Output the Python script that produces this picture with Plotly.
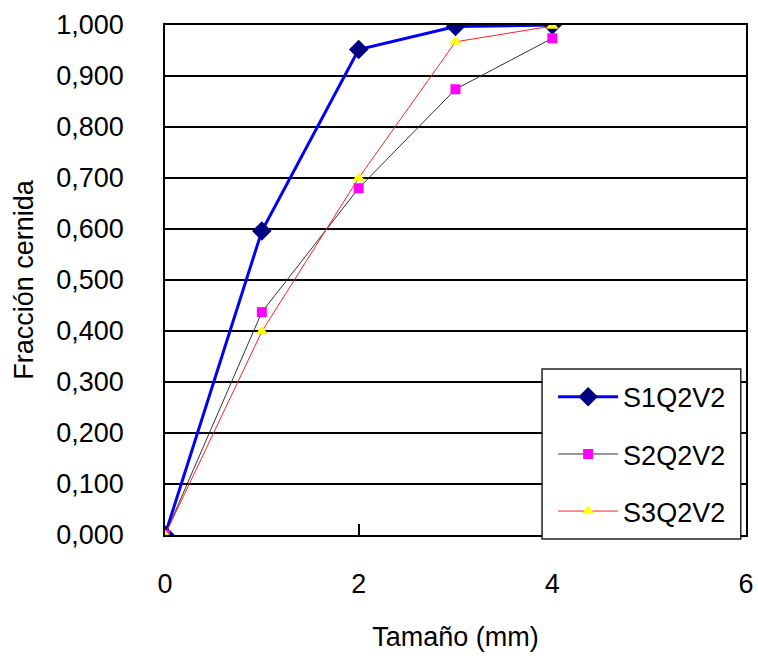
import plotly.graph_objects as go

# Sieve sizes (mm) and cumulative passing fraction for each sample
tamano = [0, 1, 2, 3, 4]
s1q2v2 = [0.000, 0.596, 0.952, 0.997, 1.000]
s2q2v2 = [0.000, 0.437, 0.680, 0.874, 0.974]
s3q2v2 = [0.000, 0.399, 0.700, 0.967, 0.998]

y_ticks = [0.0, 0.1, 0.2, 0.3, 0.4, 0.5, 0.6, 0.7, 0.8, 0.9, 1.0]
y_tick_text = ["0,000", "0,100", "0,200", "0,300", "0,400", "0,500",
               "0,600", "0,700", "0,800", "0,900", "1,000"]
x_ticks = [0, 2, 4, 6]

FONT = "Liberation Sans, Arial, sans-serif"
FS = 27

fig = go.Figure()
fig.add_trace(go.Scatter(
    x=tamano, y=s1q2v2, name="S1Q2V2", mode="lines+markers", legendgroup="a",
    line=dict(color="#0000FF", width=3),
    marker=dict(symbol="diamond", color="#000080", size=15),
))
fig.add_trace(go.Scatter(
    x=tamano, y=s2q2v2, name="S2Q2V2", mode="lines+markers", legendgroup="b",
    line=dict(color="#333333", width=1),
    marker=dict(symbol="square", color="#FF00FF", size=10),
))
fig.add_trace(go.Scatter(
    x=tamano, y=s3q2v2, name="S3Q2V2", mode="lines+markers", legendgroup="c",
    line=dict(color="#FF2020", width=1),
    marker=dict(symbol="triangle-up", color="#FFFF00", size=11),
))

# Framed white box behind the legend entries
fig.add_shape(
    type="rect", xref="paper", yref="paper", layer="above",
    x0=0.649, x1=0.991, y0=-0.008, y1=0.3255,
    fillcolor="white", line=dict(color="#222222", width=1.5),
)

fig.update_layout(
    width=758, height=660,
    margin=dict(l=165, r=12, t=25, b=125),
    paper_bgcolor="white", plot_bgcolor="white",
    font=dict(family=FONT, size=FS, color="black"),
    showlegend=True,
    legend=dict(
        x=0.668, y=0.318, xanchor="left", yanchor="top",
        bgcolor="rgba(0,0,0,0)", borderwidth=0,
        font=dict(size=FS), tracegroupgap=19, itemwidth=60,
    ),
)
fig.update_xaxes(
    range=[0, 6], tickvals=x_ticks, ticks="inside", ticklen=11,
    tickcolor="black", tickwidth=1.5, automargin=False,
    showgrid=False, zeroline=False,
    showline=True, linecolor="black", linewidth=1.5, mirror=True,
    ticklabelstandoff=24,
    title=dict(text="Tamaño (mm)", standoff=29, font=dict(size=FS)),
)
fig.update_yaxes(
    range=[0, 1], tickvals=y_ticks, ticktext=y_tick_text, ticks="",
    automargin=False,
    showgrid=True, gridcolor="black", gridwidth=1.5, zeroline=False,
    showline=True, linecolor="black", linewidth=1.5, mirror=True,
    ticklabelstandoff=34,
    title=dict(text="Fracción cernida", standoff=15, font=dict(size=FS)),
)

fig.write_html("out.html")
